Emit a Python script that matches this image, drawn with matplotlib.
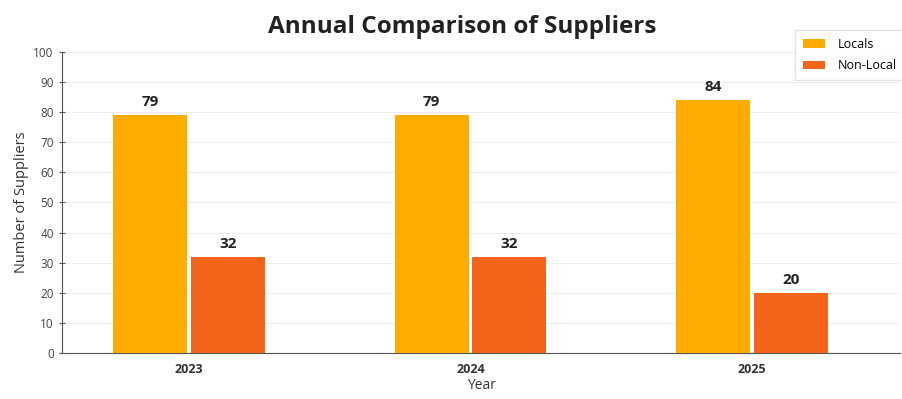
import matplotlib.pyplot as plt
import numpy as np

plt.rcParams['font.family'] = ['Open Sans', 'DejaVu Sans']

years = ["2023", "2024", "2025"]
locals_ = [79, 79, 84]
non_locals = [32, 32, 20]

fig = plt.figure(figsize=(9.03, 3.99), dpi=100)
ax = fig.add_axes([0.0687, 0.1153, 0.928, 0.7544])

x = np.arange(len(years))
w = 0.263
b1 = ax.bar(x - 0.138, locals_, width=w, color="#FFAC00", label="Locals", zorder=3)
b2 = ax.bar(x + 0.138, non_locals, width=w, color="#F26419", label="Non-Local", zorder=3)

for bars in (b1, b2):
    for r in bars:
        ax.text(r.get_x() + r.get_width() / 2, r.get_height() + 2, str(int(r.get_height())),
                ha="center", va="bottom", fontsize=11, fontweight="bold", color="#222222")

ax.set_ylim(0, 100)
ax.set_yticks(range(0, 101, 10))
ax.set_xlim(-0.451, 2.526)
ax.set_xticks(x)
ax.set_xticklabels(years, fontsize=9, fontweight="bold", color="#333333")
ax.tick_params(axis="x", length=0, pad=7)
ax.tick_params(axis="y", labelsize=8.5, labelcolor="#444444", direction="inout", length=5, color="#555555")
ax.grid(axis="y", color="#eeeeee", linewidth=0.8, zorder=0)
for s in ("top", "right"):
    ax.spines[s].set_visible(False)
for s in ("left", "bottom"):
    ax.spines[s].set_color("#555555")

ax.set_ylabel("Number of Suppliers", fontsize=10.5, color="#333333", labelpad=3)
ax.set_xlabel("Year", fontsize=10, color="#333333", labelpad=2)
fig.text(0.512, 0.932, "Annual Comparison of Suppliers", ha="center", va="center",
         fontsize=17.5, fontweight="bold", color="#222222")

fig.legend(loc="upper left", bbox_to_anchor=(0.874, 0.94), fontsize=9,
           frameon=True, edgecolor="#dddddd", fancybox=False, handlelength=1.8,
           handleheight=0.7, handletextpad=1.0, borderpad=0.6, labelspacing=0.7)

fig.savefig("out.png", dpi=100)
